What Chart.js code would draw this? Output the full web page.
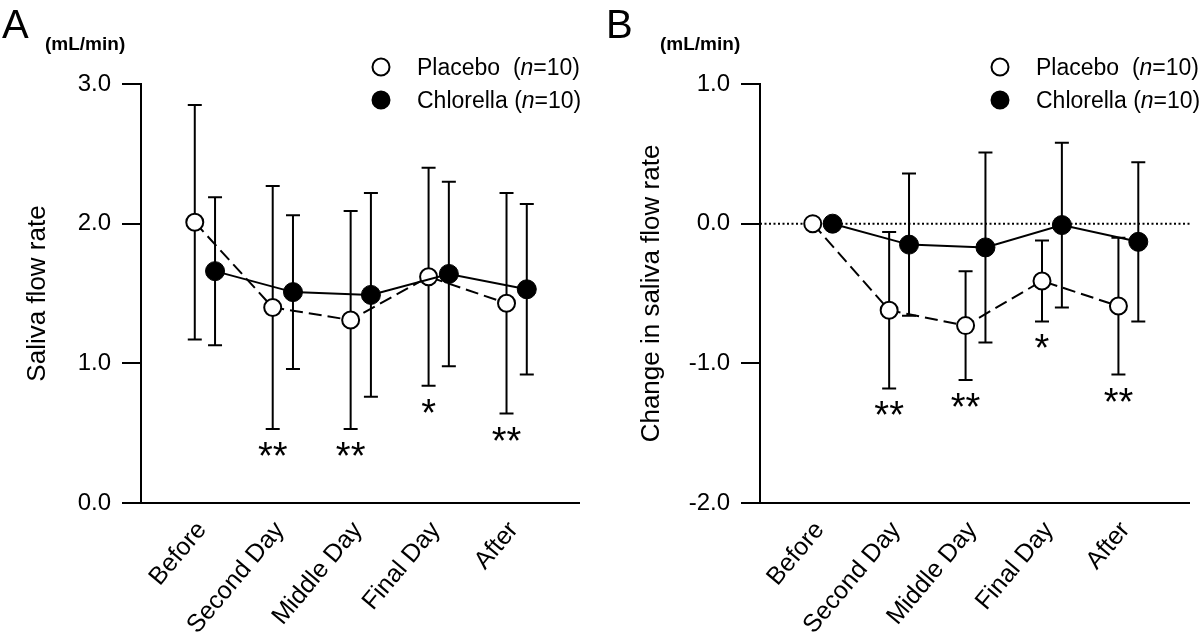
<!DOCTYPE html>
<html><head><meta charset="utf-8">
<script src="https://cdn.jsdelivr.net/npm/chart.js@4.4.1/dist/chart.umd.min.js"></script>
<style>
html,body{margin:0;padding:0;background:#fff;}
#wrap{position:relative;width:1200px;height:637px;overflow:hidden;}
.panel{position:absolute;top:0;width:600px;height:637px;}
</style></head><body>
<div id="wrap">
<div class="panel" style="left:0"><canvas id="cA" width="600" height="637"></canvas></div>
<div class="panel" style="left:600px"><canvas id="cB" width="600" height="637"></canvas></div>
</div>
<script>
// ---- data ----
const categories = ['Before', 'Second Day', 'Middle Day', 'Final Day', 'After'];

const placeboA     = [2.01, 1.40, 1.31, 1.62, 1.43];
const placeboA_sd  = [0.84, 0.87, 0.78, 0.78, 0.79];
const chlorellaA   = [1.66, 1.51, 1.49, 1.64, 1.53];
const chlorellaA_sd= [0.53, 0.55, 0.73, 0.66, 0.61];
const sigA         = ['', '**', '**', '*', '**'];
const yTicksA      = [0, 1, 2, 3];

const placeboB     = [0, -0.62, -0.73, -0.41, -0.59];
const placeboB_sd  = [0, 0.56, 0.39, 0.29, 0.49];
const chlorellaB   = [0, -0.15, -0.17, -0.01, -0.13];
const chlorellaB_sd= [0, 0.51, 0.68, 0.59, 0.57];
const sigB         = ['', '**', '**', '*', '**'];
const yTicksB      = [-2, -1, 0, 1];

const FONT = "'Liberation Sans', Arial, Helvetica, sans-serif";
const DODGE = 0.13;

const errorBars = {
  id: 'errorBars',
  beforeDatasetsDraw(chart) {
    const ctx = chart.ctx, ys = chart.scales.y;
    ctx.save();
    ctx.strokeStyle = '#000'; ctx.lineWidth = 2; ctx.setLineDash([]);
    chart.data.datasets.forEach((ds, di) => {
      const meta = chart.getDatasetMeta(di);
      meta.data.forEach((pt, i) => {
        const sd = ds.sd[i]; if (!sd) return;
        const v = ds.data[i].y;
        const yt = ys.getPixelForValue(v + sd), yb = ys.getPixelForValue(v - sd), x = pt.x;
        ctx.beginPath();
        ctx.moveTo(x, yt); ctx.lineTo(x, yb);
        ctx.moveTo(x - 7, yt); ctx.lineTo(x + 7, yt);
        ctx.moveTo(x - 7, yb); ctx.lineTo(x + 7, yb);
        ctx.stroke();
      });
    });
    ctx.restore();
  }
};

const zeroLine = {
  id: 'zeroLine',
  beforeDatasetsDraw(chart, args, opts) {
    if (!opts.show) return;
    const ctx = chart.ctx, y = chart.scales.y.getPixelForValue(0), a = chart.chartArea;
    ctx.save();
    ctx.strokeStyle = '#000'; ctx.lineWidth = 2; ctx.setLineDash([2, 2.5]);
    ctx.beginPath(); ctx.moveTo(a.left, y); ctx.lineTo(a.right, y); ctx.stroke();
    ctx.restore();
  }
};

const annot = {
  id: 'annot',
  afterDatasetsDraw(chart, args, opts) {
    const ctx = chart.ctx, ys = chart.scales.y;
    const ds = chart.data.datasets[0];
    const meta = chart.getDatasetMeta(0);
    ctx.save();
    ctx.fillStyle = '#000';
    ctx.font = '38px ' + FONT;
    ctx.textAlign = 'center'; ctx.textBaseline = 'alphabetic';
    opts.sig.forEach((s, i) => {
      if (!s) return;
      const yb = ys.getPixelForValue(ds.data[i].y - ds.sd[i]);
      ctx.fillText(s, meta.data[i].x, yb + 40);
    });
    ctx.restore();
  },
  afterDraw(chart, args, opts) {
    const ctx = chart.ctx;
    ctx.save();
    ctx.fillStyle = '#000'; ctx.textBaseline = 'alphabetic'; ctx.textAlign = 'left';
    ctx.font = '40px ' + FONT;
    ctx.fillText(opts.letter, opts.letterX, 38);
    ctx.font = 'bold 19px ' + FONT;
    ctx.fillText('(mL/min)', opts.unitX, 50);
    // legend
    const items = [
      {name: 'Placebo  (', fill: '#fff', y: 67},
      {name: 'Chlorella (', fill: '#000', y: 100}
    ];
    items.forEach(it => {
      ctx.beginPath();
      ctx.arc(opts.legX, it.y, 8.5, 0, Math.PI * 2);
      ctx.fillStyle = it.fill; ctx.fill();
      ctx.lineWidth = 2; ctx.strokeStyle = '#000'; ctx.stroke();
      ctx.fillStyle = '#000';
      let x = opts.legX + 36;
      const base = it.y + 8;
      ctx.font = '23px ' + FONT;
      ctx.fillText(it.name, x, base); x += ctx.measureText(it.name).width;
      ctx.font = 'italic 23px ' + FONT;
      ctx.fillText('n', x, base); x += ctx.measureText('n').width;
      ctx.font = '23px ' + FONT;
      ctx.fillText('=10)', x, base);
    });
    ctx.restore();
  }
};

function makePanel(id, cfg) {
  const pPts = categories.map((c, i) => ({x: i - DODGE, y: cfg.placebo[i]}));
  const cPts = categories.map((c, i) => ({x: i + DODGE, y: cfg.chlorella[i]}));
  return new Chart(document.getElementById(id), {
    type: 'line',
    data: {
      datasets: [
        {label: 'Placebo', data: pPts, sd: cfg.placeboSd, borderColor: '#000', borderWidth: 2,
         borderDash: [13, 6], pointRadius: 8.5, pointHoverRadius: 8.5, pointBackgroundColor: '#fff',
         pointBorderColor: '#000', pointBorderWidth: 2, tension: 0, fill: false, order: 2, clip: false},
        {label: 'Chlorella', data: cPts, sd: cfg.chlorellaSd, borderColor: '#000', borderWidth: 2,
         pointRadius: 9.5, pointHoverRadius: 9.5, pointBackgroundColor: '#000',
         pointBorderColor: '#000', pointBorderWidth: 1, tension: 0, fill: false, order: 1, clip: false}
      ]
    },
    options: {
      responsive: false, animation: false, events: [],
      layout: {padding: {left: 0, right: cfg.padRight, top: 84, bottom: 0}},
      plugins: {
        legend: {display: false}, tooltip: {enabled: false},
        zeroLine: {show: cfg.zero},
        annot: {sig: cfg.sig, letter: cfg.letter, letterX: cfg.letterX, unitX: cfg.unitX, legX: cfg.legX}
      },
      scales: {
        x: {
          type: 'linear', min: -0.82, max: 4.8,
          afterBuildTicks: s => { s.ticks = categories.map((c, i) => ({value: i})); },
          afterFit: s => { s.height = 134; },
          ticks: {callback: v => categories[v] ?? '', minRotation: 50, maxRotation: 50, autoSkip: false,
                  color: '#000', font: {family: FONT, size: 25}, padding: 13, labelOffset: -3},
          grid: {display: false, drawTicks: false},
          border: {display: true, color: '#000', width: 2}
        },
        y: {
          min: cfg.yTicks[0], max: cfg.yTicks[cfg.yTicks.length - 1],
          afterBuildTicks: s => { s.ticks = cfg.yTicks.map(v => ({value: v})); },
          afterFit: s => { s.width = cfg.yWidth; },
          ticks: {callback: v => v.toFixed(1), color: '#000', font: {family: FONT, size: 24}, padding: 11},
          grid: {drawOnChartArea: false, drawTicks: true, tickLength: 19, color: '#000', tickColor: '#000',
                 lineWidth: 2, tickWidth: 2},
          border: {display: true, color: '#000', width: 2},
          title: {display: true, text: cfg.yTitle, color: '#000', font: {family: FONT, size: 26},
                  padding: {top: cfg.titlePad, bottom: 0}}
        }
      }
    },
    plugins: [zeroLine, errorBars, annot]
  });
}

makePanel('cA', {placebo: placeboA, placeboSd: placeboA_sd, chlorella: chlorellaA, chlorellaSd: chlorellaA_sd,
  sig: sigA, yTicks: yTicksA, yTitle: 'Saliva flow rate', yWidth: 141, padRight: 21, titlePad: 22,
  zero: false, letter: 'A', letterX: 2, unitX: 45, legX: 381});
makePanel('cB', {placebo: placeboB, placeboSd: placeboB_sd, chlorella: chlorellaB, chlorellaSd: chlorellaB_sd,
  sig: sigB, yTicks: yTicksB, yTitle: 'Change in saliva flow rate', yWidth: 160, padRight: 3, titlePad: 36,
  zero: true, letter: 'B', letterX: 6, unitX: 60, legX: 400});
</script>
</body></html>
